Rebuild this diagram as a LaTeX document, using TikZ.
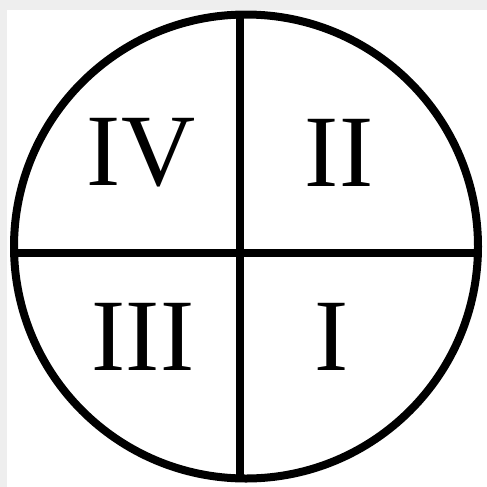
\documentclass[tikz,border=0pt]{standalone}
\usepackage{fontspec}
\setmainfont{Liberation Serif}
\usepackage{tikz}
\definecolor{scangray}{HTML}{EEEEEE}
\tikzset{
    quadlabel/.style={
        inner sep=0pt,
        font=\fontsize{73}{76}\selectfont
    },
    rim/.style={
        line width=8*0.025cm
    }
}

\begin{document}
\begin{tikzpicture}[
    x=0.025cm,
    y=-0.025cm
]

    % Hintergrund
    \fill[scangray] (0,0) rectangle (487,487);
    \fill[white] (7,10) rectangle (487,487);
    \useasboundingbox (0,0) rectangle (487,487);

    % Kreis
    \coordinate (c) at (246,246.5);
    \draw[rim] (c) circle[radius=232];

    % Achsen
    \coordinate (top)    at (240,15);
    \coordinate (bottom) at (240,476);
    \coordinate (left)   at (14,253);
    \coordinate (right)  at (478,253);
    \draw[rim] (top) -- (bottom);
    \draw[rim] (left) -- (right);

    % Quadranten
    \node[quadlabel] (q4) at (141,153) {IV};
    \node[quadlabel] (q2) at (339,153) {II};
    \node[quadlabel] (q3) at (143,337) {III};
    \node[quadlabel] (q1) at (332,337) {I};

\end{tikzpicture}
\end{document}
